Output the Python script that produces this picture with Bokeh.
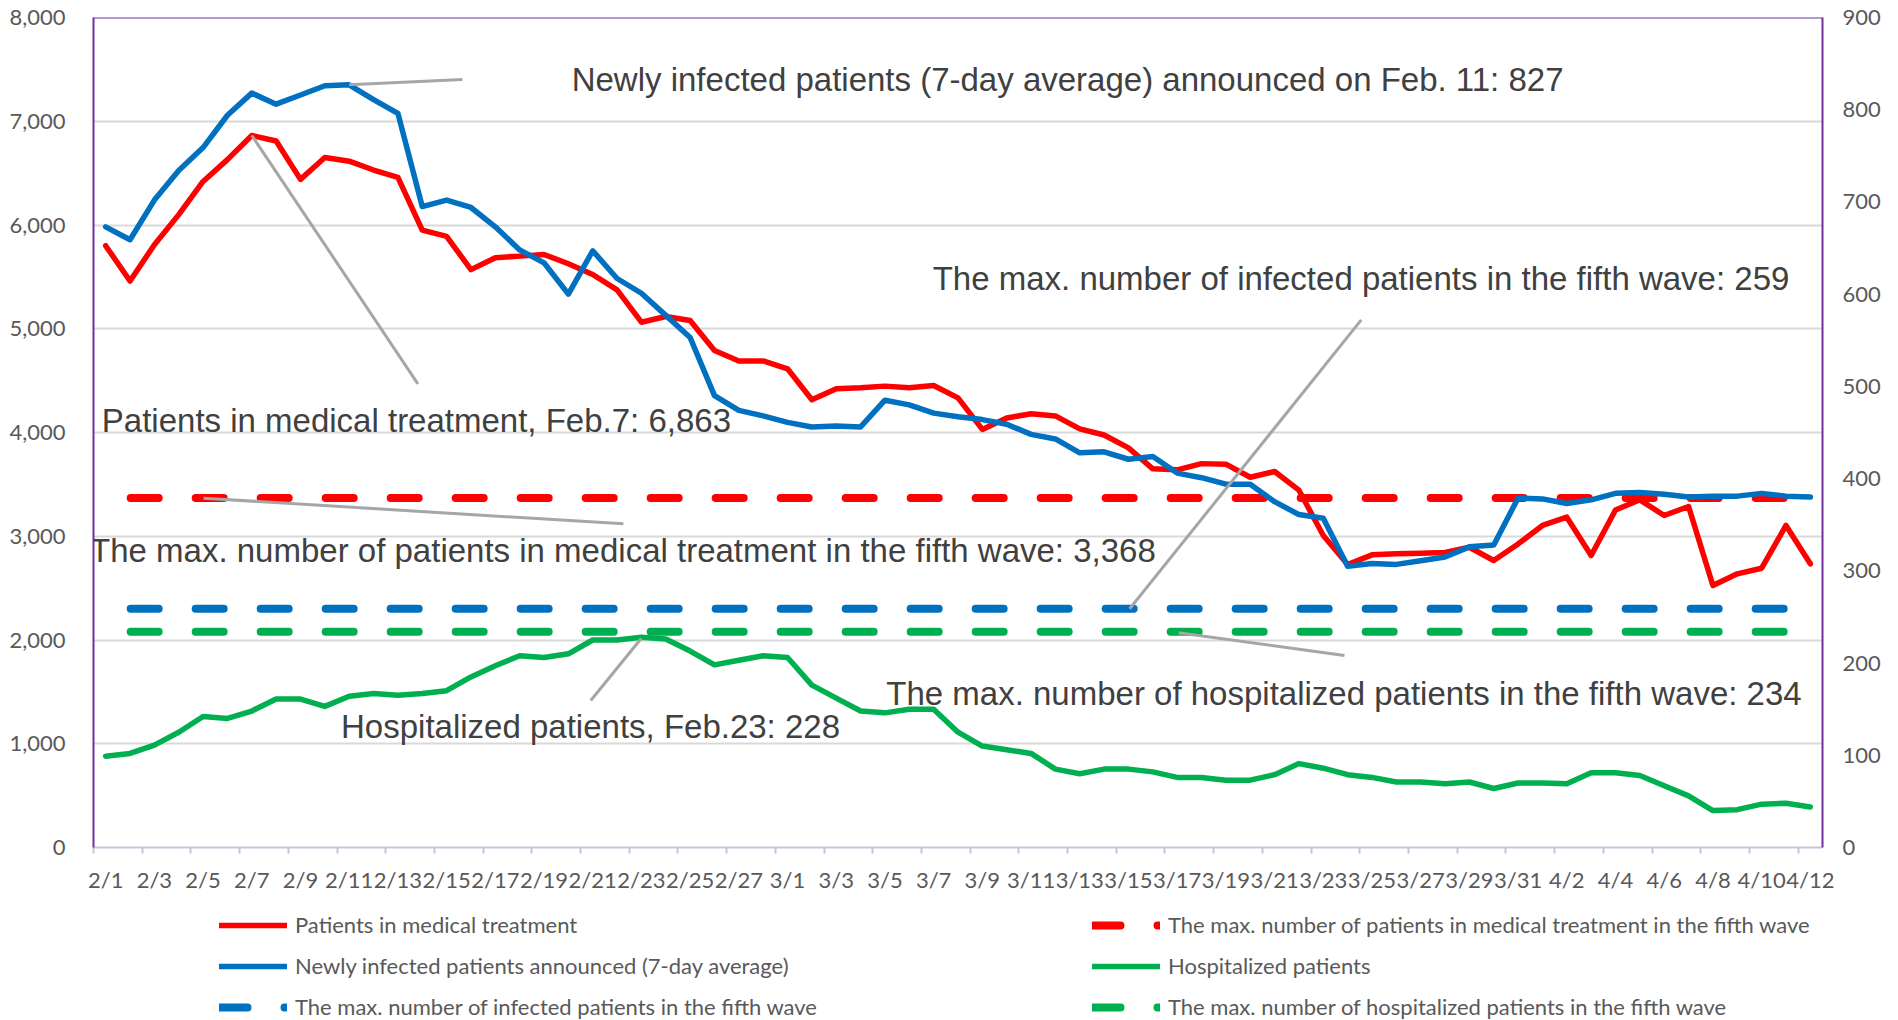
from bokeh.plotting import figure
from bokeh.layouts import column
from bokeh.models import (Range1d, LinearAxis, FixedTicker, NumeralTickFormatter, Label,
                          Legend, LegendItem, Span, ColumnDataSource)
from bokeh.embed import file_html
from bokeh.resources import INLINE

# ---------------- data ----------------
dates = ["2/1", "2/2", "2/3", "2/4", "2/5", "2/6", "2/7", "2/8", "2/9", "2/10",
         "2/11", "2/12", "2/13", "2/14", "2/15", "2/16", "2/17", "2/18", "2/19", "2/20",
         "2/21", "2/22", "2/23", "2/24", "2/25", "2/26", "2/27", "2/28",
         "3/1", "3/2", "3/3", "3/4", "3/5", "3/6", "3/7", "3/8", "3/9", "3/10",
         "3/11", "3/12", "3/13", "3/14", "3/15", "3/16", "3/17", "3/18", "3/19", "3/20",
         "3/21", "3/22", "3/23", "3/24", "3/25", "3/26", "3/27", "3/28", "3/29", "3/30", "3/31",
         "4/1", "4/2", "4/3", "4/4", "4/5", "4/6", "4/7", "4/8", "4/9", "4/10", "4/11", "4/12"]

# Patients in medical treatment (left axis)
treatment = [5800, 5460, 5810, 6100, 6420, 6630, 6863, 6810, 6440, 6650,
             6615, 6530, 6460, 5950, 5890, 5570, 5685, 5700, 5716, 5626,
             5523, 5375, 5063, 5118, 5080, 4790, 4690, 4690, 4614, 4315,
             4421, 4431, 4447, 4431, 4453, 4334, 4030, 4140, 4180, 4160,
             4035, 3976, 3852, 3650, 3640, 3700, 3695, 3569, 3624, 3444,
             3007, 2728, 2821, 2831, 2837, 2843, 2894, 2766, 2926, 3104,
             3184, 2814, 3253, 3351, 3200, 3287, 2525, 2638, 2692, 3104, 2734]

# Newly infected patients announced, 7-day average (right axis)
infected = [673, 659, 702, 734, 759, 794, 818, 806, 816, 826,
            827, 811, 796, 695, 702, 694, 673, 648, 634, 600,
            647, 617, 601, 577, 553, 490, 474, 468, 461, 456,
            457, 456, 485, 480, 471, 467, 464, 459, 448, 443,
            428, 429, 421, 424, 406, 401, 394, 394, 375, 361,
            357, 305, 308, 307, 311, 315, 326, 328, 379, 378,
            373, 377, 384, 385, 383, 380, 381, 381, 384, 381, 380]

# Hospitalized patients (right axis)
hospitalized = [99, 102, 111, 125, 142, 140, 148, 161, 161, 153,
                164, 167, 165, 167, 170, 185, 197, 208, 206, 210,
                225, 225, 228, 226, 213, 198, 203, 208, 206, 176,
                162, 148, 146, 150, 150, 125, 110, 106, 102, 85,
                80, 85, 85, 82, 76, 76, 73, 73, 79, 91,
                86, 79, 76, 71, 71, 69, 71, 64, 70, 70,
                69, 81, 81, 78, 67, 56, 40, 41, 47, 48, 44]

max_treatment_5th = 3368   # left axis
max_infected_5th = 259     # right axis
max_hospitalized_5th = 234 # right axis

left_ticks = [0, 1000, 2000, 3000, 4000, 5000, 6000, 7000, 8000]
right_ticks = [0, 100, 200, 300, 400, 500, 600, 700, 800, 900]

series_labels = ["Patients in medical treatment",
                 "Newly infected patients announced (7-day average)",
                 "The max. number of infected patients in the fifth wave",
                 "The max. number of patients in medical treatment in the fifth wave",
                 "Hospitalized patients",
                 "The max. number of hospitalized patients in the fifth wave"]

# annotation texts: (text, x centre [day index], baseline [left-axis units])
notes = [
    ("Newly infected patients (7-day average) announced on Feb. 11: 827", 39.5, 7407),
    ("Patients in medical treatment, Feb.7: 6,863", 12.76, 4111),
    ("The max. number of patients in medical treatment in the fifth wave: 3,368", 21.24, 2858),
    ("The max. number of infected patients in the fifth wave: 259", 51.55, 5480),
    ("Hospitalized patients, Feb.23: 228", 19.91, 1171),
    ("The max. number of hospitalized patients in the fifth wave: 234", 50.85, 1489),
]
# leader lines (x0, y0, x1, y1) in day index / left-axis units
leaders = [
    (10, 7352, 14.65, 7402),
    (6, 6863, 12.82, 4469),
    (4.02, 3367, 21.26, 3120),
    (21.99, 2015, 19.92, 1417),
    (42.05, 2301, 51.56, 5085),
    (44.06, 2069, 50.87, 1851),
]

# ---------------- styling constants ----------------
RED, BLUE, GREEN = "#FF0000", "#0070C0", "#00B050"
PURPLE, LAVENDER = "#7030A0", "#CBC0DD"
AXIS_TXT, NOTE_TXT = "#595959", "#404040"
DASH = "28 37"

n = len(dates)
x = list(range(n))
src = ColumnDataSource(dict(
    x=x, treatment=treatment, infected=infected, hospitalized=hospitalized,
    max_t=[max_treatment_5th] * n, max_i=[max_infected_5th] * n, max_h=[max_hospitalized_5th] * n))

p = figure(width=1898, height=905, output_backend="svg", toolbar_location=None,
           x_range=Range1d(-0.5, n - 0.5), y_range=Range1d(0, 8000),
           min_border_left=93, min_border_right=76, min_border_top=17, min_border_bottom=58)
p.extra_y_ranges = {"right": Range1d(0, 900)}
p.outline_line_color = None

# x axis
xa = p.xaxis[0]
major = list(range(0, n, 2))
xa.ticker = FixedTicker(ticks=major, minor_ticks=[i - 0.5 for i in major])
xa.major_label_overrides = {i: dates[i] for i in major}
xa.major_tick_in = 0
xa.major_tick_out = 0
xa.minor_tick_in = 0
xa.minor_tick_out = 6
xa.minor_tick_line_color = LAVENDER
xa.minor_tick_line_width = 2
xa.axis_line_color = LAVENDER
xa.axis_line_width = 2
xa.major_label_standoff = 12
xa.major_label_text_font = "Lato"
xa.major_label_text_font_size = "22px"
xa.major_label_text_color = AXIS_TXT

# left axis
ya = p.yaxis[0]
ya.ticker = FixedTicker(ticks=left_ticks)
ya.formatter = NumeralTickFormatter(format="0,0")
ya.major_tick_in = 0
ya.major_tick_out = 0
ya.minor_tick_line_color = None
ya.axis_line_color = PURPLE
ya.axis_line_width = 2
ya.major_label_standoff = 28
ya.major_label_text_font = "Lato"
ya.major_label_text_font_size = "22px"
ya.major_label_text_color = AXIS_TXT

# right axis
ra = LinearAxis(y_range_name="right", ticker=FixedTicker(ticks=right_ticks))
ra.major_tick_in = 0
ra.major_tick_out = 0
ra.minor_tick_line_color = None
ra.axis_line_color = PURPLE
ra.axis_line_width = 2
ra.major_label_standoff = 20
ra.major_label_text_font = "Lato"
ra.major_label_text_font_size = "22px"
ra.major_label_text_color = AXIS_TXT
p.add_layout(ra, "right")

# grid
p.xgrid.visible = False
p.ygrid.ticker = FixedTicker(ticks=left_ticks[1:])
p.ygrid.grid_line_color = "#D9D9D9"
p.ygrid.grid_line_width = 2

# top border
p.add_layout(Span(location=8000, dimension="width", line_color=PURPLE, line_width=2))

# dashed max lines
p.line("x", "max_t", source=src, color=RED, line_width=8, line_dash=DASH,
       line_dash_offset=40, line_cap="round")
p.line("x", "max_i", source=src, color=BLUE, line_width=8, line_dash=DASH,
       line_dash_offset=40, line_cap="round", y_range_name="right")
p.line("x", "max_h", source=src, color=GREEN, line_width=8, line_dash=DASH,
       line_dash_offset=40, line_cap="round", y_range_name="right")

# solid series
p.line("x", "treatment", source=src, color=RED, line_width=5.5,
       line_join="round", line_cap="round")
p.line("x", "infected", source=src, color=BLUE, line_width=5.5,
       line_join="round", line_cap="round", y_range_name="right")
p.line("x", "hospitalized", source=src, color=GREEN, line_width=5.5,
       line_join="round", line_cap="round", y_range_name="right")

# leader lines
p.segment(x0=[l[0] for l in leaders], y0=[l[1] for l in leaders],
          x1=[l[2] for l in leaders], y1=[l[3] for l in leaders],
          line_color="#A6A6A6", line_width=3)

for txt, lx, ly in notes:
    p.add_layout(Label(x=lx, y=ly, text=txt, text_align="center", text_baseline="alphabetic",
                       text_font="Liberation Sans", text_font_size="33px", text_color=NOTE_TXT))

# ---------------- legend strip ----------------
# the strip shows the same series, but its y range lies below all data so only the legend is seen
lg_fig = figure(width=1898, height=115, output_backend="svg", toolbar_location=None,
                x_range=Range1d(-0.5, n - 0.5), y_range=Range1d(-2, -1),
                x_axis_location=None, y_axis_location=None,
                min_border_left=0, min_border_right=0, min_border_top=0, min_border_bottom=0)
lg_fig.outline_line_color = None
lg_fig.grid.visible = False

proxy_specs = [
    ("treatment", dict(color=RED, line_width=5.5, line_cap="round")),
    ("infected", dict(color=BLUE, line_width=5.5, line_cap="round")),
    ("max_i", dict(color=BLUE, line_width=8, line_dash=DASH, line_cap="round")),
    ("max_t", dict(color=RED, line_width=8, line_dash=DASH, line_cap="round")),
    ("hospitalized", dict(color=GREEN, line_width=5.5, line_cap="round")),
    ("max_h", dict(color=GREEN, line_width=8, line_dash=DASH, line_cap="round")),
]
proxies = [lg_fig.line("x", col, source=src, **st) for col, st in proxy_specs]

def make_legend(idx, loc):
    items = [LegendItem(label=series_labels[i], renderers=[proxies[i]]) for i in idx]
    lg = Legend(items=items, location=loc, orientation="vertical",
                border_line_color=None, background_fill_alpha=0, padding=0, margin=0,
                spacing=14, glyph_width=68, glyph_height=20, label_height=20,
                label_standoff=8, label_text_font="Lato", label_text_font_size="22px",
                label_text_color=AXIS_TXT)
    lg_fig.add_layout(lg, "center")

# legend frame is aligned with the chart frame (left edge at 93px)
make_legend([0, 1, 2], (126, 0))
make_legend([3, 4, 5], (999, 0))

layout = column(p, lg_fig, spacing=0)
open("out.html", "w").write(file_html(layout, INLINE))
